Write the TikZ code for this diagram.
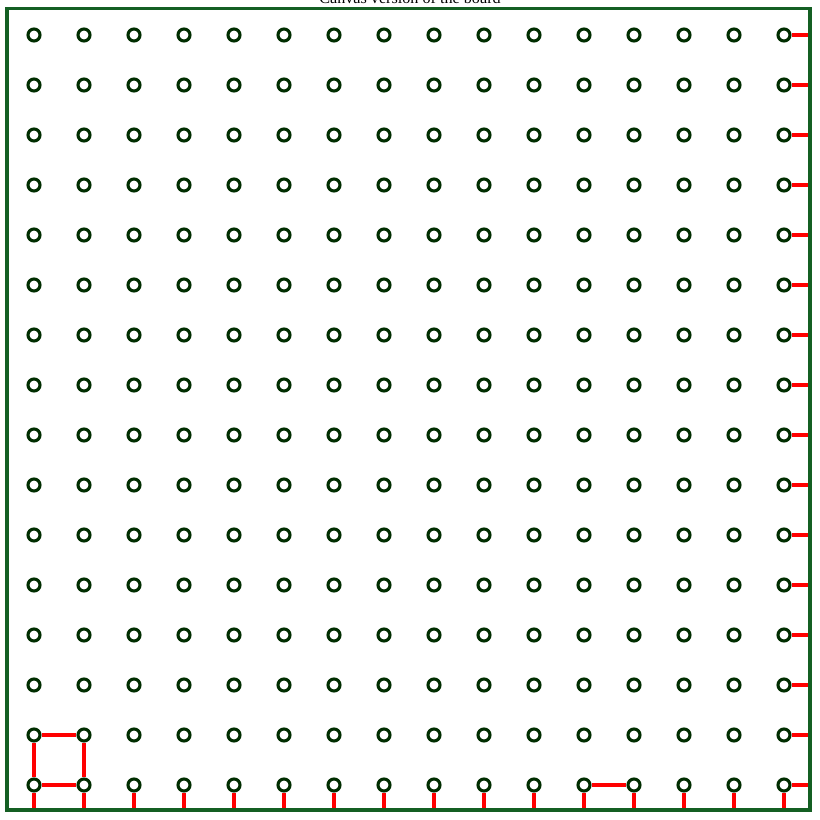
\documentclass[tikz,border=0pt]{standalone}
\usepackage{fontspec}
\setmainfont{Liberation Serif}
\definecolor{boardgreen}{RGB}{20,95,35}
\definecolor{holegreen}{RGB}{0,45,0}
\tikzset{
  hole/.style={circle, draw=holegreen, line width=2.2pt, minimum size=0.3cm, inner sep=0pt},
  wire/.style={red, line width=2.3pt},
  board/.style={draw=boardgreen, line width=2.4pt}
}
\begin{document}
\begin{tikzpicture}[x=0.025cm, y=-0.025cm, every node/.style={font=\fontsize{11.5pt}{13pt}\selectfont}]
  \useasboundingbox (0,0) rectangle (820,820);
  \node[anchor=base] (title) at (410,4) {Canvas version of the board};
  % holes
  \foreach \c in {1,...,16}
    \foreach \r in {1,...,16}
      \node[hole] (h-\c-\r) at ({34+50*(\c-1)},{35+50*(\r-1)}) {};
  % edge ends
  \foreach \c in {1,...,16}
    \coordinate (b-\c) at ({34+50*(\c-1)},810);
  \foreach \r in {1,...,16}
    \coordinate (r-\r) at (810,{35+50*(\r-1)});
  % wires
  \foreach \c in {1,...,16}
    \draw[wire] (h-\c-16) -- (b-\c);
  \foreach \r in {1,...,16}
    \draw[wire] (h-16-\r) -- (r-\r);
  \draw[wire] (h-1-15) -- (h-2-15) -- (h-2-16) -- (h-1-16) -- (h-1-15);
  \draw[wire] (h-12-16) -- (h-13-16);
  \draw[board] (7,8.5) rectangle (810,810);
\end{tikzpicture}
\end{document}
